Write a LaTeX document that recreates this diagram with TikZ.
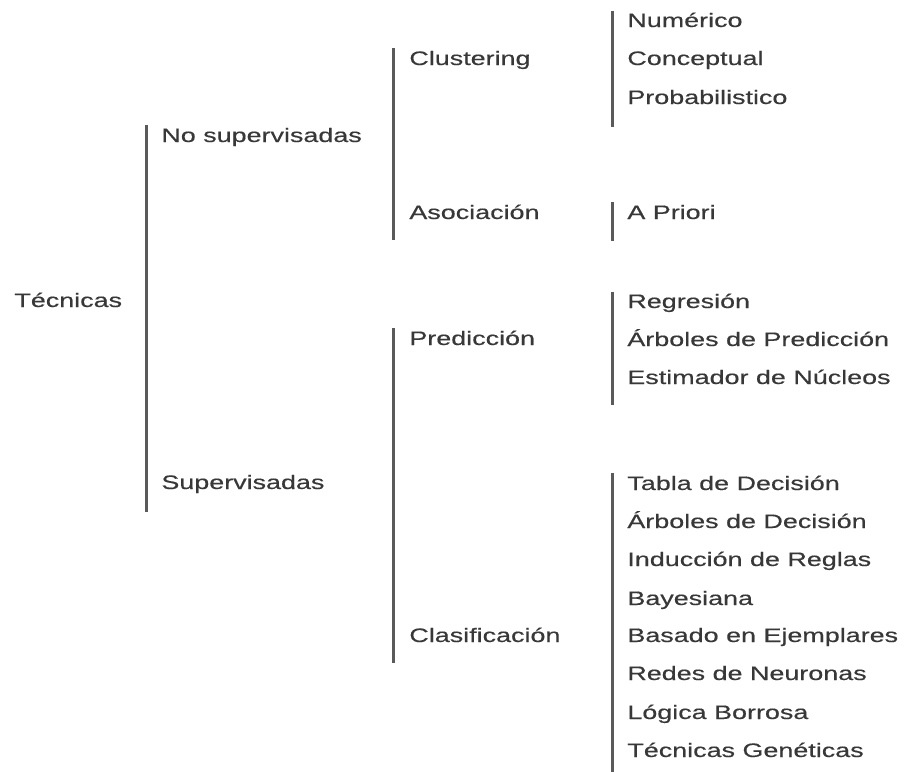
\documentclass[tikz,border=0pt]{standalone}
\usepackage{fontspec}
\setmainfont[FakeStretch=1.38, FakeBold=0.4]{Liberation Sans}
\usepackage{tikz}
\usetikzlibrary{positioning, calc}
\definecolor{ink}{HTML}{383838}
\definecolor{rule}{HTML}{5A5A5A}

\begin{document}
\begin{tikzpicture}[x=0.5pt, y=-0.5pt,
      lbl/.style={anchor=base west, inner sep=0pt, text=ink,
        font=\fontsize{9.75}{12}\selectfont},
      bar/.style={draw=rule, line width=1.5pt}]

    \useasboundingbox (0,0) rectangle (912,772);

    % nivel 0 y 1
    \node[lbl] (tec) at (14,307) {Técnicas};
    \node[lbl] (nosup) at (161,142) {No supervisadas};
    \node[lbl] (sup) at (161,489) {Supervisadas};

    % nivel 2
    \node[lbl] (clus) at (409,65) {Clustering};
    \node[lbl] (asoc) at (409,219) {Asociación};
    \node[lbl] (pred) at (409,345) {Predicción};
    \node[lbl] (clas) at (409,642) {Clasificación};

    % hojas
    \node[lbl] (num) at (627,27) {Numérico};
    \node[lbl] (conc) at (627,65) {Conceptual};
    \node[lbl] (prob) at (627,104) {Probabilistico};
    \node[lbl] (apri) at (627,219) {A Priori};
    \node[lbl] (regr) at (627,308) {Regresión};
    \node[lbl] (arbp) at (627,346) {Árboles de Predicción};
    \node[lbl] (estn) at (627,384) {Estimador de Núcleos};
    \node[lbl] (tabd) at (627,490) {Tabla de Decisión};
    \node[lbl] (arbd) at (627,528) {Árboles de Decisión};
    \node[lbl] (indr) at (627,566) {Inducción de Reglas};
    \node[lbl] (baye) at (627,605) {Bayesiana};
    \node[lbl] (base) at (627,642) {Basado en Ejemplares};
    \node[lbl] (redn) at (627,680) {Redes de Neuronas};
    \node[lbl] (logb) at (627,719) {Lógica Borrosa};
    \node[lbl] (tecg) at (627,757) {Técnicas Genéticas};

    % barras
    \coordinate (tecT) at (146,125);  \coordinate (tecB) at (146,512);
    \coordinate (nosT) at (393,48);   \coordinate (nosB) at (393,240);
    \coordinate (supT) at (393,328);  \coordinate (supB) at (393,663);
    \coordinate (cluT) at (612,11);   \coordinate (cluB) at (612,127);
    \coordinate (asoT) at (612,202);  \coordinate (asoB) at (612,241);
    \coordinate (preT) at (612,292);  \coordinate (preB) at (612,405);
    \coordinate (claT) at (612,473);  \coordinate (claB) at (612,772);

    \draw[bar] (tecT) -- (tecB);
    \draw[bar] (nosT) -- (nosB);
    \draw[bar] (supT) -- (supB);
    \draw[bar] (cluT) -- (cluB);
    \draw[bar] (asoT) -- (asoB);
    \draw[bar] (preT) -- (preB);
    \draw[bar] (claT) -- (claB);
  \end{tikzpicture}
\end{document}
